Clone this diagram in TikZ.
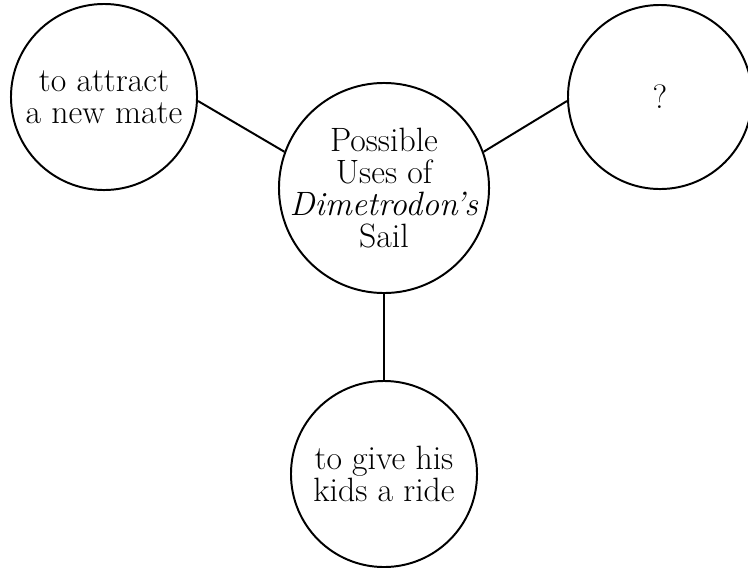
\documentclass[tikz,border=0pt]{standalone}
\usepackage{tikz}
\usetikzlibrary{positioning}

\begin{document}
\begin{tikzpicture}[
  x=0.025cm, y=-0.025cm,
  bubble/.style={circle, draw, line width=1.4pt, inner sep=-8pt, minimum size=4.65cm, align=center, font=\fontsize{24}{22.7}\selectfont},
  hub/.style={bubble, minimum size=5.25cm},
  link/.style={line width=1.4pt},
]
\useasboundingbox (0,0) rectangle (748,567);

% Center
\node[hub] (sail) at (384,188) {Possible\\Uses of\\\textit{Dimetrodon’s}\\Sail};

% Ideas
\node[bubble] (mate) at (104,97) {to attract\\a new mate};
\node[bubble, minimum size=4.6cm] (unknown) at (660,97) {?};
\node[bubble] (ride) at (384,474) {to give his\\kids a ride};

% Links
\draw[link] ([yshift=-0.1cm]mate.east) -- (sail.160);
\draw[link] (sail.20) -- ([yshift=-0.1cm]unknown.west);
\draw[link] (sail.south) -- (ride.north);

\end{tikzpicture}
\end{document}
